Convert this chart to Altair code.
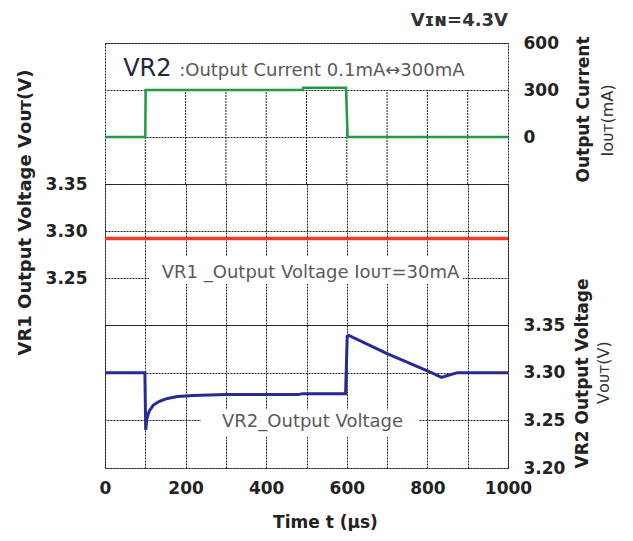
import altair as alt
import pandas as pd

# ---------------- data ----------------
grid_t = [0, 100, 200, 300, 400, 500, 600, 700, 800, 900, 1000]
inner_t = [100, 200, 300, 400, 500, 600, 700, 800, 900]

# VR2 output current (mA)
cur_time = [0, 100, 101, 490, 492, 598, 602, 1000]
cur_mA = [0, 0, 300, 300, 315, 315, 0, 0]
cur_ticks = [-300, 0, 300, 600]

# VR1 output voltage (V)
vr1_time = [0, 1000]
vr1_v = [3.292, 3.292]
vr1_ticks = [3.20, 3.25, 3.30, 3.35]

# VR2 output voltage (V)
vr2_time = [0, 99, 101, 104, 110, 120, 135, 155, 180, 220, 300, 480, 490,
            597, 601, 605, 700, 800, 835, 850, 875, 1000]
vr2_v = [3.300, 3.300, 3.240, 3.252, 3.260, 3.266, 3.270, 3.273, 3.275, 3.276,
         3.277, 3.277, 3.278, 3.278, 3.338, 3.339, 3.320, 3.302, 3.295, 3.297,
         3.300, 3.300]
vr2_ticks = [3.20, 3.25, 3.30, 3.35]

# ---------------- style ----------------
W = 403
FONT = "DejaVu Sans"
GRID = "#222222"
DASH = [2, 1]
ANN = "#5a5a5a"

xscale = alt.Scale(domain=[0, 1000], nice=False, zero=False)

# ---------------- panel 1 : output current ----------------
cur_df = pd.DataFrame({"t": cur_time, "mA": cur_mA})
yscale1 = alt.Scale(domain=[-300, 600], nice=False, zero=False)
X1 = alt.X("t:Q", scale=xscale, axis=None)

vgrid1 = alt.Chart(pd.DataFrame({"t": inner_t})).mark_rule(
    color=GRID, strokeDash=DASH, strokeWidth=1
).encode(x=X1, y=alt.datum(-300), y2=alt.datum(300))

cur_line = alt.Chart(cur_df).mark_line(color="#1e9e40", strokeWidth=2.5).encode(
    x=X1,
    y=alt.Y("mA:Q", scale=yscale1, axis=alt.Axis(
        orient="right", values=cur_ticks, format="d",
        labelExpr="datum.value < 0 ? '' : datum.label",
        grid=True, gridColor=GRID, gridDash=DASH, ticks=False, domain=False,
        labelFlush=False, labelOverlap=False, labelPadding=15,
        labelFont=FONT, labelFontSize=17, labelFontWeight="bold", labelColor="#222",
        title="Output Current", titleAngle=270, titleY=66, titlePadding=34,
        titleFont=FONT, titleFontSize=17, titleFontWeight="bold", titleColor="#222")),
)

ann1 = alt.Chart(pd.DataFrame({"t": [45], "mA": [391], "label": ["VR2"]})).mark_text(
    align="left", baseline="alphabetic", font=FONT, fontSize=24, color="#1f2745"
).encode(x=X1, y="mA:Q", text="label:N")

ann1b = alt.Chart(pd.DataFrame({"t": [184], "mA": [391],
                                "label": [":Output Current 0.1mA\u2194300mA"]})).mark_text(
    align="left", baseline="alphabetic", font=FONT, fontSize=18, color=ANN
).encode(x=X1, y="mA:Q", text="label:N")

vin = alt.Chart(pd.DataFrame({"t": [1000], "mA": [742], "label": ["V\u026a\u0274=4.3V"]})).mark_text(
    align="right", baseline="middle", font=FONT, fontSize=18, fontWeight="bold", color="#333"
).encode(x=X1, y="mA:Q", text="label:N")

iout_line2 = alt.Chart(pd.DataFrame({"t": [1248], "mA": [106], "label": ["I\u1d0f\u1d1c\u1d1b(mA)"]})).mark_text(
    align="center", baseline="middle", angle=270, font=FONT, fontSize=16, color="#333"
).encode(x=X1, y="mA:Q", text="label:N")

p1 = alt.layer(vgrid1, cur_line, ann1, ann1b, vin, iout_line2).properties(width=W, height=141)

# ---------------- panel 2 : VR1 output voltage ----------------
vr1_df = pd.DataFrame({"t": vr1_time, "v": vr1_v})
yscale2 = alt.Scale(domain=[3.20, 3.35], nice=False, zero=False)
X2 = alt.X("t:Q", scale=xscale, axis=alt.Axis(
    values=grid_t, labels=False, ticks=False, domain=False, grid=True,
    gridColor=GRID, gridDash=DASH, title=None))

vr1_line = alt.Chart(vr1_df).mark_line(color="#f03a2a", strokeWidth=3.5).encode(
    x=X2,
    y=alt.Y("v:Q", scale=yscale2, axis=alt.Axis(
        orient="left", values=vr1_ticks, format=".2f",
        labelExpr="datum.value < 3.22 ? '' : datum.label",
        grid=True, gridColor=GRID, gridDash=DASH, ticks=False, domain=False,
        labelFlush=False, labelOverlap=False, labelPadding=18,
        labelFont=FONT, labelFontSize=17, labelFontWeight="bold", labelColor="#222",
        title="VR1 Output Voltage V\u1d0f\u1d1c\u1d1b(V)", titleY=28, titlePadding=11,
        titleFont=FONT, titleFontSize=18, titleFontWeight="bold", titleColor="#222")),
)

bg2 = alt.Chart(pd.DataFrame({"t": [109], "t2": [888], "v": [3.2436], "v2": [3.2734]})).mark_rect(
    color="white").encode(x=X2, x2="t2:Q", y="v:Q", y2="v2:Q")

ann2 = alt.Chart(pd.DataFrame({"t": [510], "v": [3.2495],
                               "label": ["VR1 _Output Voltage I\u1d0f\u1d1c\u1d1b=30mA"]})).mark_text(
    align="center", baseline="alphabetic", font=FONT, fontSize=18, color=ANN
).encode(x=X2, y="v:Q", text="label:N")

p2 = alt.layer(vr1_line, bg2, ann2).properties(width=W, height=141)

# ---------------- panel 3 : VR2 output voltage ----------------
vr2_df = pd.DataFrame({"t": vr2_time, "v": vr2_v})
yscale3 = alt.Scale(domain=[3.20, 3.35], nice=False, zero=False)
X3 = alt.X("t:Q", scale=xscale, axis=alt.Axis(
    values=grid_t, format="d",
    labelExpr="datum.value % 200 == 0 ? datum.label : ''",
    ticks=False, domain=False, grid=True, gridColor=GRID, gridDash=DASH,
    labelFlush=False, labelOverlap=False, labelPadding=12,
    labelFont=FONT, labelFontSize=17, labelFontWeight="bold", labelColor="#222",
    title="Time t (\u00b5s)", titleX=220, titlePadding=18,
    titleFont=FONT, titleFontSize=17, titleFontWeight="bold", titleColor="#222"))

vr2_line = alt.Chart(vr2_df).mark_line(color="#272a95", strokeWidth=3).encode(
    x=X3,
    y=alt.Y("v:Q", scale=yscale3, axis=alt.Axis(
        orient="right", values=vr2_ticks, format=".2f",
        grid=True, gridColor=GRID, gridDash=DASH, ticks=False, domain=False,
        labelFlush=False, labelOverlap=False, labelPadding=15,
        labelFont=FONT, labelFontSize=17, labelFontWeight="bold", labelColor="#222",
        title="VR2 Output Voltage", titleAngle=270, titleY=48, titlePadding=27,
        titleFont=FONT, titleFontSize=17, titleFontWeight="bold", titleColor="#222")),
)

bg3 = alt.Chart(pd.DataFrame({"t": [238], "t2": [779], "v": [3.2328], "v2": [3.2613]})).mark_rect(
    color="white").encode(x=X3, x2="t2:Q", y="v:Q", y2="v2:Q")

ann3 = alt.Chart(pd.DataFrame({"t": [515], "v": [3.2425], "label": ["VR2_Output Voltage"]})).mark_text(
    align="center", baseline="alphabetic", font=FONT, fontSize=18, color=ANN
).encode(x=X3, y="v:Q", text="label:N")

vout_line2 = alt.Chart(pd.DataFrame({"t": [1238], "v": [3.300], "label": ["V\u1d0f\u1d1c\u1d1b(V)"]})).mark_text(
    align="center", baseline="middle", angle=270, font=FONT, fontSize=16, color="#333"
).encode(x=X3, y="v:Q", text="label:N")

p3 = alt.layer(vr2_line, bg3, ann3, vout_line2).properties(width=W, height=143)

chart = alt.vconcat(p1, p2, p3, spacing=0, bounds="flush").resolve_scale(
    x="independent", y="independent"
).properties(
    padding={"left": 7, "top": 3, "right": 0, "bottom": 0},
    background="white",
).configure_view(stroke=GRID, strokeDash=DASH, strokeWidth=1)

chart.save("out.html", embed_options={"renderer": "svg", "actions": False})
